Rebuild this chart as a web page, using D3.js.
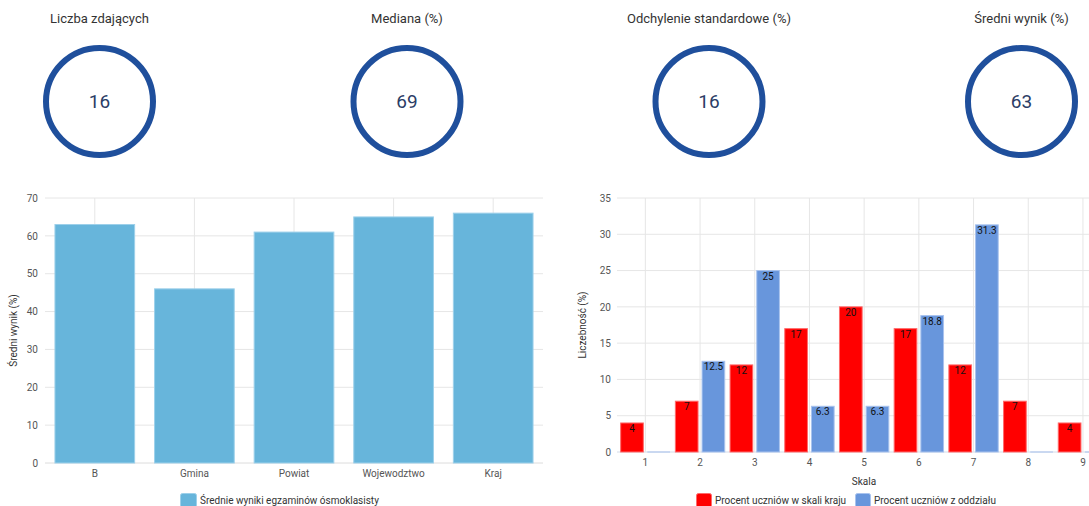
<!DOCTYPE html>
<html>
<head>
<meta charset="utf-8">
<script src="https://cdn.jsdelivr.net/npm/d3@7"></script>
<style>
  html, body { margin: 0; padding: 0; background: #fff; }
  svg { display: block; font-family: Roboto, "Noto Sans", sans-serif; }
</style>
</head>
<body>
<svg id="chart" width="1089" height="506"></svg>
<script>
// ---- data ----
const statTitles = ["Liczba zdających", "Mediana (%)", "Odchylenie standardowe (%)", "Średni wynik (%)"];
const statValues = [16, 69, 16, 63];

const leftCategories = ["B", "Gmina", "Powiat", "Wojewodztwo", "Kraj"];
const leftValues = [63, 46, 61, 65, 66];
const leftTicks = [0, 10, 20, 30, 40, 50, 60, 70];
const leftSeriesName = "Średnie wyniki egzaminów ósmoklasisty";
const leftYLabel = "Średni wynik (%)";

const scaleCategories = ["1", "2", "3", "4", "5", "6", "7", "8", "9"];
const krajValues = [4, 7, 12, 17, 20, 17, 12, 7, 4];
const oddzialValues = [0, 12.5, 25, 6.3, 6.3, 18.8, 31.3, 0, 0];
const rightTicks = [0, 5, 10, 15, 20, 25, 30, 35];
const rightSeriesNames = ["Procent uczniów w skali kraju", "Procent uczniów z oddziału"];
const rightYLabel = "Liczebność (%)";
const rightXLabel = "Skala";

// ---- drawing ----
const svg = d3.select("#chart");
const gridColor = "#e6e6e6";
const tickColor = "#555";

// stat circles
const statX = d3.scaleOrdinal().domain(d3.range(4)).range([99.5, 407, 709, 1021.5]);
const stats = svg.append("g");
statValues.forEach((v, i) => {
  const cx = statX(i);
  stats.append("text").attr("x", cx).attr("y", 23).attr("text-anchor", "middle")
    .attr("font-size", 13).attr("fill", "#333").text(statTitles[i]);
  stats.append("circle").attr("cx", cx).attr("cy", 101.5).attr("r", 53.5)
    .attr("fill", "none").attr("stroke", "#1f4f9c").attr("stroke-width", 6);
  stats.append("text").attr("x", cx).attr("y", 101.5).attr("dy", "0.35em")
    .attr("text-anchor", "middle").attr("font-size", 19).attr("fill", "#2b3d66").text(v);
});

// left bar chart
{
  const x = d3.scaleBand().domain(leftCategories).range([45, 543]).paddingInner(0.2).paddingOuter(0.1);
  const y = d3.scaleLinear().domain([0, 70]).range([463, 198]);
  const g = svg.append("g");
  g.append("g").selectAll("line").data(leftTicks).join("line")
    .attr("x1", 45).attr("x2", 543).attr("y1", d => y(d)).attr("y2", d => y(d))
    .attr("stroke", d => d === 0 ? "#dcdcdc" : gridColor).attr("stroke-width", 1);
  g.append("g").selectAll("line").data(leftCategories).join("line")
    .attr("x1", d => x(d) + x.bandwidth() / 2).attr("x2", d => x(d) + x.bandwidth() / 2)
    .attr("y1", y(70)).attr("y2", y(0)).attr("stroke", gridColor);
  g.append("g").selectAll("rect").data(leftValues).join("rect")
    .attr("x", (d, i) => x(leftCategories[i]))
    .attr("width", x.bandwidth())
    .attr("y", d => y(d)).attr("height", d => y(0) - y(d))
    .attr("fill", "#67b5db").attr("stroke", "#9dd0ea").attr("stroke-width", 1);
  const yAxis = d3.axisLeft(y).tickValues(leftTicks).tickSize(0).tickPadding(0);
  const ya = g.append("g").attr("transform", "translate(38,0)").call(yAxis);
  ya.select(".domain").remove();
  ya.selectAll("text").attr("font-size", 10).attr("fill", tickColor).attr("font-family", "Roboto");
  const xAxis = d3.axisBottom(x).tickSize(0).tickPadding(0);
  const xa = g.append("g").attr("transform", "translate(0,470)").call(xAxis);
  xa.select(".domain").remove();
  xa.selectAll("text").attr("font-size", 10).attr("fill", tickColor).attr("font-family", "Roboto");
  g.append("text").attr("transform", "translate(17,330.5) rotate(-90)").attr("text-anchor", "middle")
    .attr("font-size", 10).attr("fill", "#333").text(leftYLabel);
  g.append("rect").attr("x", 180.5).attr("y", 493.5).attr("width", 16).attr("height", 14).attr("rx", 2)
    .attr("fill", "#67b5db").attr("stroke", "#9dd0ea");
  g.append("text").attr("x", 200).attr("y", 504).attr("font-size", 10).attr("fill", "#333").text(leftSeriesName);
}

// right grouped bar chart
{
  const x = d3.scaleBand().domain(scaleCategories).range([618, 1110.3]).padding(0);
  const sub = d3.scaleBand().domain([0, 1]).range([0, x.bandwidth()]).paddingInner(0.15).paddingOuter(0.1);
  const y = d3.scaleLinear().domain([0, 35]).range([452, 198]);
  const colors = ["#ff0000", "#6896dc"];
  const strokes = ["#ff6a6a", "#a9c3ee"];
  const g = svg.append("g");
  g.append("g").selectAll("line").data(rightTicks).join("line")
    .attr("x1", 617).attr("x2", 1089).attr("y1", d => y(d)).attr("y2", d => y(d))
    .attr("stroke", d => d === 0 ? "#d4dbe8" : gridColor);
  g.append("g").selectAll("line").data(scaleCategories).join("line")
    .attr("x1", d => x(d) + x.bandwidth() / 2).attr("x2", d => x(d) + x.bandwidth() / 2)
    .attr("y1", y(35)).attr("y2", y(0)).attr("stroke", gridColor);
  const series = [krajValues, oddzialValues];
  series.forEach((vals, s) => {
    const items = vals.map((v, i) => ({ v, c: scaleCategories[i] }));
    g.append("g").selectAll("rect").data(items).join("rect")
      .attr("x", d => x(d.c) + sub(s))
      .attr("width", sub.bandwidth())
      .attr("y", d => y(d.v) - (d.v === 0 ? 0.5 : 0))
      .attr("height", d => Math.max(1, y(0) - y(d.v)))
      .attr("fill", d => d.v === 0 ? strokes[s] : colors[s])
      .attr("stroke", d => d.v === 0 ? "none" : strokes[s]).attr("stroke-width", 1);
    g.append("g").selectAll("text").data(items.filter(d => d.v > 0)).join("text")
      .attr("x", d => x(d.c) + sub(s) + sub.bandwidth() / 2)
      .attr("y", d => y(d.v) + 9)
      .attr("text-anchor", "middle").attr("font-size", 10).attr("fill", "#111").text(d => d.v);
  });
  const yAxis = d3.axisLeft(y).tickValues(rightTicks).tickSize(0).tickPadding(0);
  const ya = g.append("g").attr("transform", "translate(611,0)").call(yAxis);
  ya.select(".domain").remove();
  ya.selectAll("text").attr("font-size", 10).attr("fill", tickColor).attr("font-family", "Roboto");
  const xAxis = d3.axisBottom(x).tickSize(0).tickPadding(0);
  const xa = g.append("g").attr("transform", "translate(0,459)").call(xAxis);
  xa.select(".domain").remove();
  xa.selectAll("text").attr("font-size", 10).attr("fill", tickColor).attr("font-family", "Roboto");
  g.append("text").attr("x", 864).attr("y", 485).attr("text-anchor", "middle")
    .attr("font-size", 10).attr("fill", "#333").text(rightXLabel);
  g.append("text").attr("transform", "translate(586,325) rotate(-90)").attr("text-anchor", "middle")
    .attr("font-size", 10).attr("fill", "#333").text(rightYLabel);
  const legX = [696, 855], legT = [715, 874];
  rightSeriesNames.forEach((n, s) => {
    g.append("rect").attr("x", legX[s] + 0.5).attr("y", 493.5).attr("width", 15).attr("height", 14).attr("rx", 2)
      .attr("fill", colors[s]).attr("stroke", strokes[s]);
    g.append("text").attr("x", legT[s]).attr("y", 504).attr("font-size", 10).attr("fill", "#333").text(n);
  });
}
</script>
</body>
</html>
